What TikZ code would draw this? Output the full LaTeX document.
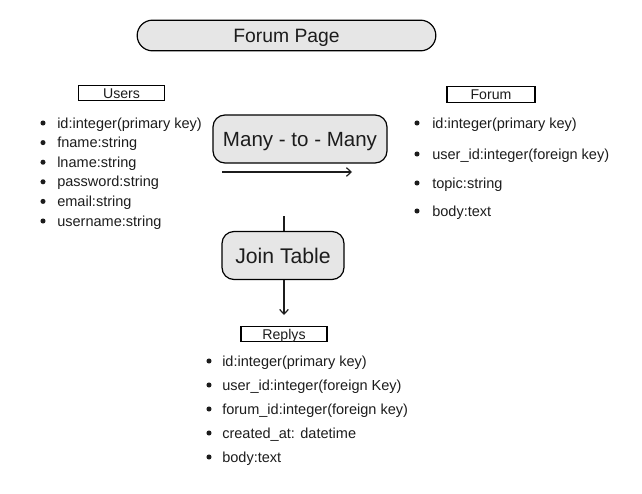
\documentclass[tikz,border=0pt]{standalone}
\usepackage{fontspec}
\setmainfont{Liberation Sans}
\usetikzlibrary{positioning, arrows.meta}
\definecolor{boxgray}{RGB}{230,230,230}
\definecolor{inkgray}{RGB}{28,28,28}
\tikzset{
    titlebox/.style={rectangle, rounded corners=11.5pt, draw=black, fill=boxgray, line width=0.9pt, minimum width=224pt, minimum height=23pt, inner sep=0pt, font=\fontsize{14.5}{16}\selectfont, text height=10.4pt, text depth=0pt, text=inkgray},
    relbox/.style={rectangle, rounded corners=9pt, draw=black, fill=boxgray, line width=0.9pt, minimum height=36pt, inner sep=0pt, font=\fontsize{15.4}{17}\selectfont, text height=11.1pt, text depth=0pt, text=inkgray},
    tablehead/.style={rectangle, draw=black, line width=0.9pt, minimum width=65pt, minimum height=11.5pt, inner sep=0pt, font=\fontsize{10.6}{12}\selectfont, text height=7.6pt, text depth=0pt, text=inkgray},
    itemtext/.style={anchor=west, inner sep=0pt, font=\fontsize{10.9}{12}\selectfont, text height=7.6pt, text depth=0pt, text=inkgray},
    relarrow/.style={-{Straight Barb[length=3.5pt, width=6.5pt]}, line width=0.9pt, draw=inkgray},
    linkline/.style={line width=0.9pt, draw=inkgray}
}
\begin{document}
\begin{tikzpicture}[x=0.75pt, y=-0.75pt]
    \useasboundingbox (0,0) rectangle (642,493);
    \node[titlebox] (title) at (286.5,35.5) {Forum Page};
    % table headers
    \node[tablehead] (users) at (121.5,93) {Users};
    \node[tablehead, minimum width=66pt] (forum) at (491,94.5) {Forum};
    \node[tablehead, minimum width=64.5pt] (replys) at (284,334) {Replys};
    % relation boxes
    \node[relbox, minimum width=130.5pt] (many) at (300,139) {Many - to - Many};
    \node[relbox, minimum width=91.5pt, font=\fontsize{15.9}{18}\selectfont, text height=11.4pt] (join) at (283,255.5) {Join Table};
    % users columns
    \foreach \txt [count=\i] in {id:integer(primary key), fname:string, lname:string, password:string, email:string, username:string} {
        \fill[inkgray] (43,{123+(\i-1)*19.6}) circle (1.9pt);
        \node[itemtext] (users-\i) at (57,{123+(\i-1)*19.6}) {\txt};
    }
    % forum columns
    \foreach \y/\txt [count=\i] in {123/id:integer(primary key), 154/user\_id:integer(foreign key), 183/topic:string, 211/body:text} {
        \fill[inkgray] (417,\y) circle (1.9pt);
        \node[itemtext] (forum-\i) at (432,\y) {\txt};
    }
    % replys columns
    \foreach \txt [count=\i] in {id:integer(primary key), user\_id:integer(foreign Key), forum\_id:integer(foreign key), created\_at: datetime, body:text} {
        \fill[inkgray] (209,{361+(\i-1)*24}) circle (1.9pt);
        \node[itemtext] (replys-\i) at (222,{361+(\i-1)*24}) {\txt};
    }
    % connectors
    \coordinate (many-from) at (222,172);
    \coordinate (many-to) at (352,172);
    \draw[relarrow] (many-from) -- (many-to);
    \coordinate (join-top) at (284,216);
    \draw[linkline] (join-top) -- (join-top |- join.north);
    \coordinate (replys-in) at (284,315);
    \draw[relarrow] (join.south -| replys-in) -- (replys-in);
\end{tikzpicture}
\end{document}
